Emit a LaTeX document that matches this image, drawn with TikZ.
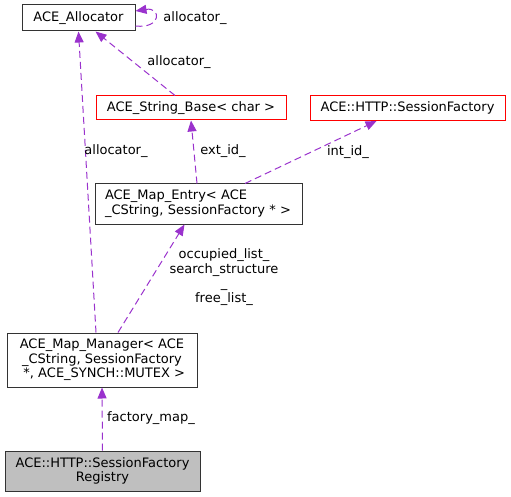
\documentclass[tikz,border=0pt]{standalone}
\usepackage{fontspec}
\setmainfont{DejaVu Sans}
\usetikzlibrary{arrows.meta}
\definecolor{edgec}{HTML}{9A32CD}
\definecolor{boxgray}{HTML}{BFBFBF}
\tikzset{
  cls/.style={draw=black!80, line width=1pt, inner sep=0pt, font=\fontsize{13}{14.7}\selectfont},
  missing/.style={cls, draw=red},
  edge/.style={draw=edgec, line width=1pt, dash pattern=on 7pt off 4pt,
    -{Triangle[length=11pt,width=9pt,fill=edgec]}},
  lbl/.style={font=\fontsize{13}{14.7}\selectfont, inner sep=0pt, align=center}
}
\begin{document}
\begin{tikzpicture}[x=1pt,y=-1pt]
\useasboundingbox (0,0) rectangle (511,497);
\node[cls, minimum width=113pt, minimum height=26pt] (alloc) at (78.5,18) {ACE\_Allocator};
\node[missing, minimum width=190pt, minimum height=24pt] (strbase) at (191,108) {ACE\_String\_Base< char >};
\node[missing, minimum width=195pt, minimum height=25pt] (sessfac) at (407.5,108) {ACE::HTTP::SessionFactory};
\node[cls, minimum width=207pt, minimum height=40pt, align=left, text width=187pt] (entry) at (198.5,204) {ACE\_Map\_Entry< ACE\\\_CString, SessionFactory * >};
\node[cls, minimum width=190pt, minimum height=54pt, align=center] (manager) at (102,360) {ACE\_Map\_Manager< ACE\\\_CString, SessionFactory\\\hspace*{0.35em}*, ACE\_SYNCH::MUTEX >};
\node[cls, fill=boxgray, minimum width=195pt, minimum height=40pt, align=center] (registry) at (102.5,471) {ACE::HTTP::SessionFactory\\Registry};

% self loop
\coordinate (loopS) at ([yshift=-8pt]alloc.east);
\coordinate (loopE) at ([yshift=7pt]alloc.east);
\draw[edge] (loopS) .. controls +(26,3) and +(26,-4) .. (loopE);
\node[lbl] (l1) at (195,18) {allocator\_};

\draw[edge] ([xshift=-16pt]strbase.north) -- ([xshift=17pt]alloc.south);
\node[lbl] (l2) at (179,62) {allocator\_};

\draw[edge] ([xshift=-6pt]manager.north) -- (alloc.south);
\node[lbl] (l3) at (116,151) {allocator\_};

\draw[edge] ([xshift=-1.5pt]entry.north) -- (strbase.south);
\node[lbl] (l4) at (223,151) {ext\_id\_};

\draw[edge] ([xshift=46.5pt]entry.north) -- ([xshift=-31pt]sessfac.south);
\node[lbl] (l5) at (348,152) {int\_id\_};

\draw[edge] ([xshift=16pt]manager.north) -- ([xshift=-14pt]entry.south);
\node[lbl] (l6) at (224,277) {occupied\_list\_\\search\_structure\\\_\\free\_list\_};

\draw[edge] (registry.north) -- (manager.south);
\node[lbl] (l7) at (151,418) {factory\_map\_};
\end{tikzpicture}
\end{document}
